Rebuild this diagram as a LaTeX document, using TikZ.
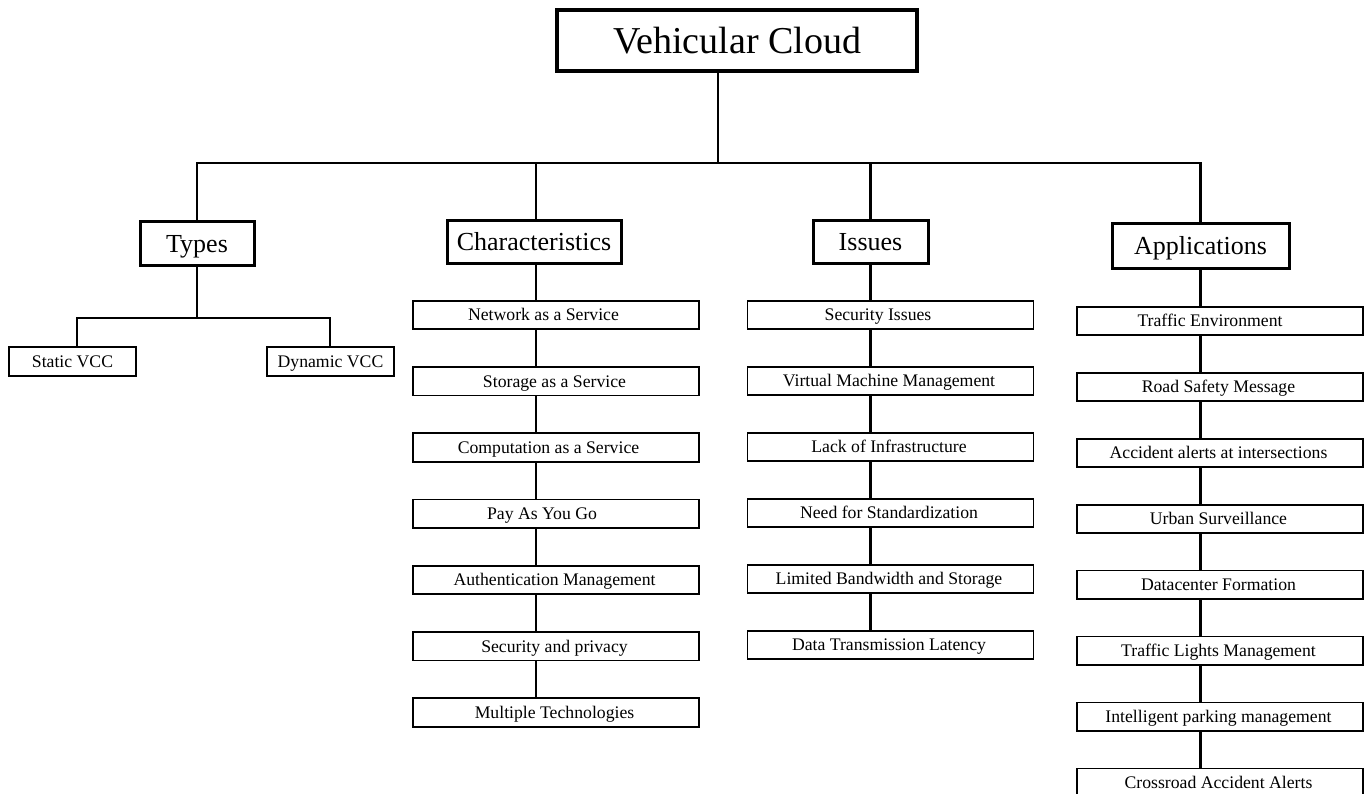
\documentclass[tikz,border=0pt]{standalone}
\usepackage{fontspec}
\setmainfont{Liberation Serif}
\newcommand{\padr}[1]{\rule{#1}{0pt}}
\begin{document}
\begin{tikzpicture}[x=1pt,y=-1pt,
  topbox/.style={draw,line width=3.5pt,minimum width=360pt,minimum height=61pt,inner sep=0pt,text height=25.2pt,text depth=0pt,font=\fontsize{38}{40}\selectfont},
  catbox/.style={draw,line width=3pt,minimum height=43pt,inner sep=0pt,text height=17.2pt,text depth=0pt,font=\fontsize{26}{28}\selectfont},
  itembox/.style={draw,line width=1.8pt,minimum width=286pt,minimum height=28.5pt,inner sep=0pt,text height=11.7pt,text depth=0pt,font=\fontsize{17.7}{19}\selectfont},
  typebox/.style={itembox,minimum width=127pt},
  conn/.style={line width=2.8pt}]
\useasboundingbox (0,0) rectangle (1364,794);
\fill[white] (0,0) rectangle (1364,794);

\node[topbox] (vc) at (737,40.5) {Vehicular Cloud};
\coordinate (bus) at (718,163);

\node[catbox,minimum width=114pt] (types) at (197,243.5) {Types};
\node[catbox,minimum width=174pt,minimum height=42pt] (char) at (534,242) {Characteristics};
\node[catbox,minimum width=115pt,minimum height=42pt] (issues) at (870.5,242) {Issues};
\node[catbox,minimum width=177pt,minimum height=44pt] (apps) at (1200.5,246) {Applications};

% Types
\node[typebox] (static) at (72.5,361.5) {Static VCC};
\node[typebox] (dynamic) at (330.5,361.5) {Dynamic VCC};
\coordinate (tj) at (197,318);

% Characteristics
\node[itembox] (c1) at (556,315) {Network as a Service\padr{25pt}};
\node[itembox] (c2) at (556,381.25) {Storage as a Service\padr{3pt}};
\node[itembox] (c3) at (556,447.5) {Computation as a Service\padr{15pt}};
\node[itembox] (c4) at (556,513.75) {Pay As You Go\padr{28pt}};
\node[itembox] (c5) at (556,580) {Authentication Management\padr{3pt}};
\node[itembox] (c6) at (556,646.25) {Security and privacy\padr{3pt}};
\node[itembox] (c7) at (556,712.5) {Multiple Technologies\padr{3pt}};

% Issues
\node[itembox] (i1) at (890.5,315) {Security Issues\padr{25pt}};
\node[itembox] (i2) at (890.5,381) {Virtual Machine Management\padr{3pt}};
\node[itembox] (i3) at (890.5,447) {Lack of Infrastructure\padr{3pt}};
\node[itembox] (i4) at (890.5,513) {Need for Standardization\padr{3pt}};
\node[itembox] (i5) at (890.5,579) {Limited Bandwidth and Storage\padr{3pt}};
\node[itembox] (i6) at (890.5,645) {Data Transmission Latency\padr{3pt}};

% Applications
\node[itembox] (a1) at (1220,321) {Traffic Environment\padr{20pt}};
\node[itembox] (a2) at (1220,386.95) {Road Safety Message\padr{3pt}};
\node[itembox] (a3) at (1220,452.9) {Accident alerts at intersections\padr{3pt}};
\node[itembox] (a4) at (1220,518.85) {Urban Surveillance\padr{3pt}};
\node[itembox] (a5) at (1220,584.8) {Datacenter Formation\padr{3pt}};
\node[itembox] (a6) at (1220,650.75) {Traffic Lights Management\padr{3pt}};
\node[itembox] (a7) at (1220,716.7) {Intelligent parking management\padr{3pt}};
\node[itembox] (a8) at (1220,782.65) {Crossroad Accident Alerts\padr{3pt}};

% connectors
\draw[conn] (vc.south -| bus) -- (bus);
\draw[conn] (types.north) -- (types.north |- bus) -- (apps.north |- bus) -- (apps.north);
\draw[conn] ([xshift=2pt]char.north) -- ([xshift=2pt]char.north |- bus);
\draw[conn] (issues.north) -- (issues.north |- bus);

\draw[conn] (types.south) -- (tj);
\draw[conn] ([xshift=4.5pt]static.north) |- (tj) -| ([xshift=-0.5pt]dynamic.north);

\draw[conn] ([xshift=2pt]char.south) -- ([xshift=2pt]char.south |- c1.north);
\foreach \a/\b in {c1/c2,c2/c3,c3/c4,c4/c5,c5/c6,c6/c7}
  \draw[conn] ([xshift=2pt]char.south |- \a.south) -- ([xshift=2pt]char.south |- \b.north);

\draw[conn] (issues.south) -- (issues.south |- i1.north);
\foreach \a/\b in {i1/i2,i2/i3,i3/i4,i4/i5,i5/i6}
  \draw[conn] (issues.south |- \a.south) -- (issues.south |- \b.north);

\draw[conn] (apps.south) -- (apps.south |- a1.north);
\foreach \a/\b in {a1/a2,a2/a3,a3/a4,a4/a5,a5/a6,a6/a7,a7/a8}
  \draw[conn] (apps.south |- \a.south) -- (apps.south |- \b.north);
\end{tikzpicture}
\end{document}
